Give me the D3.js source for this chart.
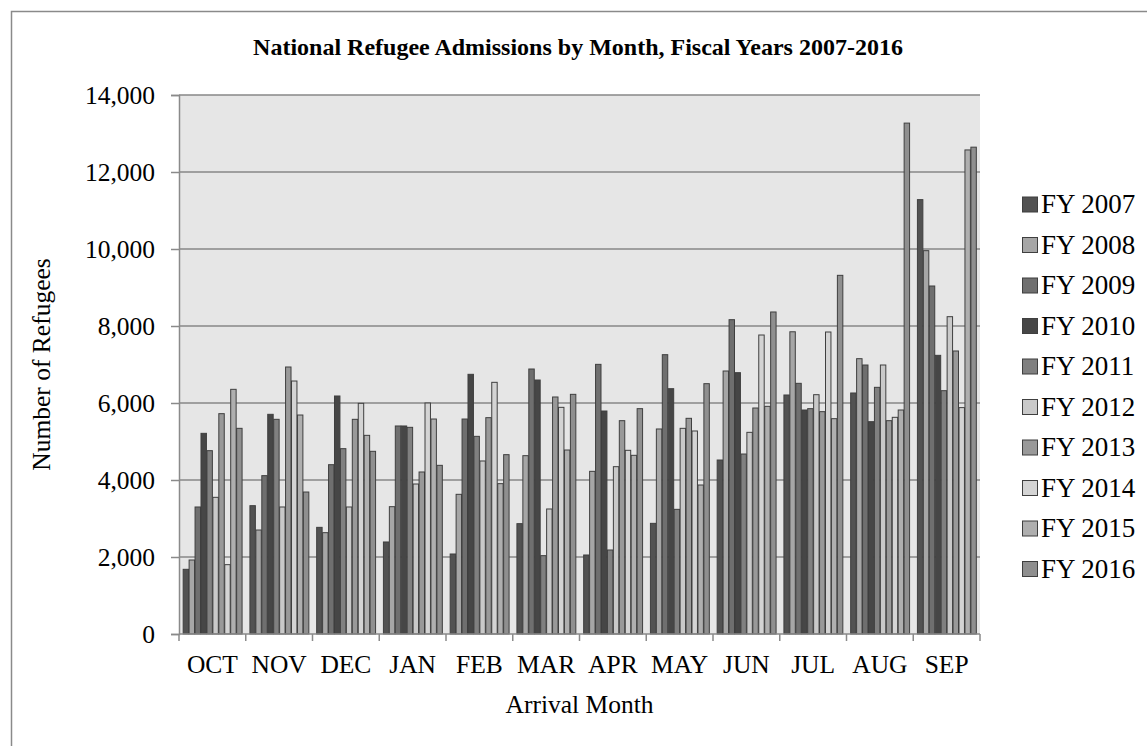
<!DOCTYPE html>
<html>
<head>
<meta charset="utf-8">
<script src="https://cdn.jsdelivr.net/npm/d3@7"></script>
<style>
  html, body { margin: 0; padding: 0; background: #fff; }
  svg { display: block; }
  svg text { font-family: "Liberation Serif", "Times New Roman", serif !important; fill: #000; }
</style>
</head>
<body>
<svg id="chart" width="1147" height="746"></svg>
<script>
// Arrival months (fiscal year order)
const months = ["OCT", "NOV", "DEC", "JAN", "FEB", "MAR", "APR", "MAY", "JUN", "JUL", "AUG", "SEP"];
const fiscalYears = ["FY 2007", "FY 2008", "FY 2009", "FY 2010", "FY 2011", "FY 2012", "FY 2013", "FY 2014", "FY 2015", "FY 2016"];

// Monthly refugee arrivals, one array per fiscal year (OCT..SEP)
const fy2007 = [1680, 3333, 2770, 2390, 2078, 2866, 2052, 2874, 4519, 6208, 6260, 11282];
const fy2008 = [1922, 2701, 2632, 3307, 3628, 4632, 4225, 5325, 6831, 7850, 7151, 9957];
const fy2009 = [3299, 4113, 4398, 5403, 5584, 6883, 7004, 7255, 8164, 6511, 6987, 9039];
const fy2010 = [5212, 5706, 6182, 5403, 6745, 6597, 5792, 6372, 6788, 5818, 5515, 7238];
const fy2011 = [4762, 5576, 4814, 5368, 5134, 2035, 2182, 3238, 4675, 5853, 6407, 6320];
const fy2012 = [3550, 3299, 3299, 3896, 4494, 3247, 4346, 5342, 5238, 6216, 6987, 8242];
const fy2013 = [5723, 6935, 5576, 4208, 5619, 6156, 5541, 5602, 5870, 5775, 5541, 7351];
const fy2014 = [1801, 6571, 5991, 6000, 6537, 5887, 4771, 5273, 7766, 7844, 5628, 5880];
const fy2015 = [6355, 5688, 5160, 5584, 3905, 4779, 4641, 3870, 5913, 5593, 5818, 12573];
const fy2016 = [5342, 3688, 4745, 4381, 4658, 6225, 5853, 6502, 8364, 9316, 13270, 12645];

const seriesValues = [fy2007, fy2008, fy2009, fy2010, fy2011, fy2012, fy2013, fy2014, fy2015, fy2016];
const seriesColors = ["#525252", "#a6a6a6", "#6f6f6f", "#464646", "#808080", "#c9c9c9", "#999999", "#d4d4d4", "#afafaf", "#8f8f8f"];
const yTicks = [0, 2000, 4000, 6000, 8000, 10000, 12000, 14000];

const FONT = '"Liberation Serif", "Times New Roman", serif';
const svg = d3.select("#chart");

// Chart frame
svg.append("rect")
  .attr("x", 11.5).attr("y", 11.5)
  .attr("width", 1142).attr("height", 742)
  .attr("fill", "#fff").attr("stroke", "#8a8a8a").attr("stroke-width", 1.5);

const plot = { left: 179, right: 980, top: 95, bottom: 634 };

const x = d3.scaleBand().domain(months).range([plot.left, plot.right]).paddingInner(0.11).paddingOuter(0.055);
const xInner = d3.scaleBand().domain(d3.range(fiscalYears.length)).range([0, x.bandwidth()]);
const y = d3.scaleLinear().domain([0, 14000]).range([plot.bottom, plot.top]);

// Plot background
svg.append("rect")
  .attr("x", plot.left).attr("y", plot.top)
  .attr("width", plot.right - plot.left).attr("height", plot.bottom - plot.top)
  .attr("fill", "#e6e6e6");

// Horizontal gridlines
svg.append("g")
  .selectAll("line")
  .data(yTicks.filter(d => d > 0))
  .join("line")
  .attr("x1", plot.left).attr("x2", plot.right)
  .attr("y1", d => y(d)).attr("y2", d => y(d))
  .attr("stroke", "#878787").attr("stroke-width", 1.5);

// Bars
const groups = svg.append("g")
  .selectAll("g")
  .data(months)
  .join("g")
  .attr("transform", m => `translate(${x(m)},0)`);

groups.selectAll("rect")
  .data((m, mi) => seriesValues.map((vals, si) => ({ si, v: vals[mi] })))
  .join("rect")
  .attr("x", d => xInner(d.si) + 0.5)
  .attr("width", xInner.bandwidth() - 0.5)
  .attr("y", d => y(d.v))
  .attr("height", d => y(0) - y(d.v))
  .attr("fill", d => seriesColors[d.si])
  .attr("stroke", "#3f3f3f")
  .attr("stroke-width", 1);

// Y axis
const yAxis = svg.append("g")
  .attr("transform", `translate(${plot.left},0)`)
  .call(d3.axisLeft(y).tickValues(yTicks).tickSize(8).tickPadding(16).tickFormat(d3.format(",")));
yAxis.attr("font-family", null).attr("font-size", null);
yAxis.select(".domain").attr("stroke", "#8a8a8a").attr("stroke-width", 1.5);
yAxis.selectAll(".tick line").attr("stroke", "#8a8a8a").attr("stroke-width", 1.5);
yAxis.selectAll("text").style("font-family", FONT).style("font-size", "25.5px").attr("fill", "#000");

// X axis with category separators
const xAxis = svg.append("g")
  .attr("transform", `translate(0,${plot.bottom})`)
  .call(d3.axisBottom(x).tickSize(0).tickPadding(21));
xAxis.attr("font-family", null).attr("font-size", null);
xAxis.select(".domain").remove();
xAxis.selectAll("text").style("font-family", FONT).style("font-size", "25.5px").attr("fill", "#000");
svg.append("line")
  .attr("x1", plot.left).attr("x2", plot.right)
  .attr("y1", plot.bottom).attr("y2", plot.bottom)
  .attr("stroke", "#8a8a8a").attr("stroke-width", 1.5);
svg.append("g")
  .selectAll("line")
  .data(d3.range(months.length + 1))
  .join("line")
  .attr("x1", i => plot.left + i * x.step()).attr("x2", i => plot.left + i * x.step())
  .attr("y1", plot.bottom).attr("y2", plot.bottom + 7)
  .attr("stroke", "#8a8a8a").attr("stroke-width", 1.5);

// Title
svg.append("text")
  .attr("x", 578).attr("y", 55)
  .attr("text-anchor", "middle")
  .style("font-family", FONT)
  .style("font-size", "24px").style("font-weight", "bold")
  .text("National Refugee Admissions by Month, Fiscal Years 2007-2016");

// Axis titles
svg.append("text")
  .attr("x", (plot.left + plot.right) / 2).attr("y", 713)
  .attr("text-anchor", "middle")
  .style("font-family", FONT)
  .style("font-size", "25.5px")
  .text("Arrival Month");

svg.append("text")
  .attr("transform", `translate(50,${(plot.top + plot.bottom) / 2}) rotate(-90)`)
  .attr("text-anchor", "middle")
  .style("font-family", FONT)
  .style("font-size", "25.5px")
  .text("Number of Refugees");

// Legend
const legend = svg.append("g")
  .selectAll("g")
  .data(fiscalYears)
  .join("g")
  .attr("transform", (d, i) => `translate(1022,${204 + i * 40.5})`);
legend.append("rect")
  .attr("x", 0.5).attr("y", -7)
  .attr("width", 15).attr("height", 15)
  .attr("fill", (d, i) => seriesColors[i])
  .attr("stroke", "#3f3f3f").attr("stroke-width", 1);
legend.append("text")
  .attr("x", 19).attr("y", 9)
  .style("font-family", FONT)
  .style("font-size", "27px")
  .text(d => d);
</script>
</body>
</html>
